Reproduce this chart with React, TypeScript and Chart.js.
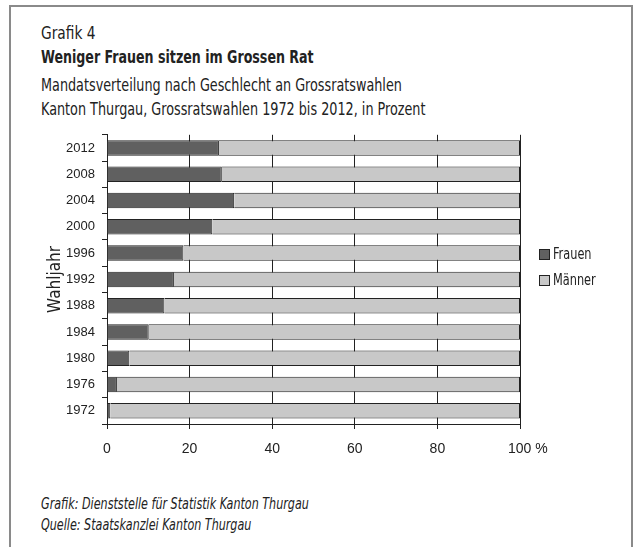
import React, { useEffect, useRef } from "react";
import { Chart, registerables } from "chart.js";

Chart.register(...registerables);

const years = ["2012", "2008", "2004", "2000", "1996", "1992", "1988", "1984", "1980", "1976", "1972"];
const frauen = [27.1, 27.8, 30.8, 25.5, 18.5, 16.2, 13.9, 10.1, 5.4, 2.4, 0.8];
const maenner = [72.9, 72.2, 69.2, 74.5, 81.5, 83.8, 86.1, 89.9, 94.6, 97.6, 99.2];
const xTicks = [0, 20, 40, 60, 80, 100];
const seriesNames = ["Frauen", "Männer"];
const seriesColors = ["#606060", "#c8c8c8"];

const FONT = "'DejaVu Sans Condensed', 'DejaVu Sans', sans-serif";
const TICKFONT = "'Liberation Sans', Arial, sans-serif";
const INK = "#222222";

export default function App() {
  const ref = useRef<HTMLCanvasElement | null>(null);

  useEffect(() => {
    if (!ref.current) return;
    const chart = new Chart(ref.current, {
      type: "bar",
      data: {
        labels: years,
        datasets: [
          {
            label: seriesNames[0],
            data: frauen,
            backgroundColor: seriesColors[0],
            borderColor: INK,
            borderWidth: 1,
            barPercentage: 0.59,
            categoryPercentage: 1,
          },
          {
            label: seriesNames[1],
            data: maenner,
            backgroundColor: seriesColors[1],
            borderColor: INK,
            borderWidth: 1,
            barPercentage: 0.59,
            categoryPercentage: 1,
          },
        ],
      },
      options: {
        indexAxis: "y",
        animation: false,
        responsive: false,
        maintainAspectRatio: false,
        layout: { padding: { left: 45, right: 113, top: 14, bottom: 0 } },
        plugins: { legend: { display: false }, tooltip: { enabled: false } },
        scales: {
          x: {
            stacked: true,
            min: 0,
            max: 100,
            afterBuildTicks: (s: any) => {
              s.ticks = xTicks.map((v) => ({ value: v }));
            },
            ticks: {
              font: { family: TICKFONT, size: 14 },
              color: INK,
              padding: 12,
              maxRotation: 0,
              callback: (v: any) => (v === 100 ? "\u00a0\u00a0\u00a0\u00a0100 %" : String(v)),
            },
            grid: { color: INK, lineWidth: 1, tickLength: 5 },
            border: { color: INK, width: 1 },
            afterFit: (s: any) => {
              s.height = 56;
            },
          },
          y: {
            stacked: true,
            ticks: { font: { family: TICKFONT, size: 13 }, color: INK, padding: 7 },
            grid: { drawOnChartArea: false, drawTicks: true, tickLength: 5, color: INK, offset: true },
            border: { color: INK, width: 1 },
            title: {
              display: true,
              text: "Wahljahr",
              font: { family: FONT, size: 17 },
              color: INK,
              padding: { top: 0, bottom: 0 },
            },
            afterFit: (s: any) => {
              s.width = 62;
            },
          },
        },
      },
    });
    return () => chart.destroy();
  }, []);

  const txt = (sx: number): React.CSSProperties => ({
    position: "absolute",
    left: 41,
    fontFamily: FONT,
    color: INK,
    whiteSpace: "nowrap",
    margin: 0,
    transform: `scaleX(${sx})`,
    transformOrigin: "0 0",
  });

  return (
    <div style={{ position: "absolute", left: 0, top: 0, width: 633, height: 547, overflow: "hidden", background: "#fff" }}>
      <div
        style={{
          position: "absolute",
          left: 9,
          top: 5,
          width: 620,
          height: 542,
          borderTop: "2px solid #8a8a8a",
          borderLeft: "2px solid #8a8a8a",
          borderRight: "2px solid #8a8a8a",
        }}
      />
      <div style={{ ...txt(0.85), top: 23, fontSize: 18, lineHeight: "20px" }}>Grafik 4</div>
      <div style={{ ...txt(0.78), top: 47, fontSize: 18, lineHeight: "20px", fontWeight: "bold" }}>
        Weniger Frauen sitzen im Grossen Rat
      </div>
      <div style={{ ...txt(0.79), top: 73, fontSize: 18, lineHeight: "24px" }}>
        Mandatsverteilung nach Geschlecht an Grossratswahlen
        <br />
        Kanton Thurgau, Grossratswahlen 1972 bis 2012, in Prozent
      </div>
      <canvas ref={ref} width={633} height={360} style={{ position: "absolute", left: 0, top: 120, width: 633, height: 360 }} />
      {seriesNames.map((n, i) => (
        <div key={n} style={{ position: "absolute", left: 539, top: 245 + i * 26, height: 18, display: "flex", alignItems: "center", fontFamily: FONT, fontSize: 15, color: INK }}>
          <span style={{ display: "inline-block", width: 9, height: 9, background: seriesColors[i], border: "1px solid " + INK, marginRight: 3 }} />
          <span style={{ display: "inline-block", transform: "scaleX(0.84)", transformOrigin: "0 50%" }}>{n}</span>
        </div>
      ))}
      <div style={{ ...txt(0.8), top: 494, fontSize: 15.5, lineHeight: "21px", fontStyle: "italic" }}>
        Grafik: Dienststelle für Statistik Kanton Thurgau
        <br />
        Quelle: Staatskanzlei Kanton Thurgau
      </div>
    </div>
  );
}
